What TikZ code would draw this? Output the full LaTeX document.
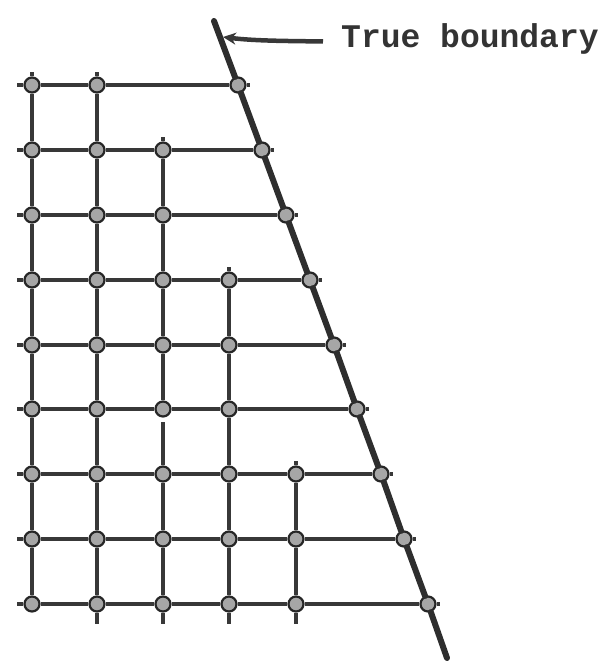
\documentclass[tikz,border=0pt]{standalone}
\usepackage{fontspec}
\newfontfamily\typewriter{Liberation Mono}
\usetikzlibrary{arrows.meta}
\tikzset{
  gridpt/.style={circle,draw=black!85,line width=2.2pt,fill=black!35,minimum size=15pt,inner sep=0pt},
  gridline/.style={line width=4.2pt,draw=black!78},
  bndline/.style={line width=6pt,draw=black!82,line cap=round},
}
\begin{document}
\begin{tikzpicture}[x=1pt,y=-1pt]
\useasboundingbox (0,0) rectangle (609,664);

\coordinate (btop) at (214,21);
\coordinate (bbot) at (447,658);
\foreach \r/\y/\bx in {1/85/238,2/150/262,3/215/286,4/280/310,5/345/334,6/409/357,7/474/381,8/539/404,9/604/428}
  \node[gridpt] (b\r) at (\bx,\y) {};
\foreach \c/\x/\first in {1/32/1,2/97/1,3/163/2,4/229/4,5/296/7} {
  \foreach \r/\y in {1/85,2/150,3/215,4/280,5/345,6/409,7/474,8/539,9/604} {
    \ifnum\r<\first\relax\else\node[gridpt] (n\r-\c) at (\x,\y) {};\fi
  }
}

\draw[bndline] (btop) -- (b1) -- (b2) -- (b3) -- (b4) -- (b5) -- (b6) -- (b7) -- (b8) -- (b9) -- (bbot);

\foreach \r/\m in {1/2,2/3,3/3,4/4,5/4,6/4,7/5,8/5,9/5} {
  \draw[gridline] (n\r-1) -- ++(-15,0);
  \foreach \c [evaluate=\c as \p using int(\c-1)] in {2,...,\m}
    \draw[gridline] (n\r-\p) -- (n\r-\c);
  \draw[gridline] (n\r-\m) -- (b\r) -- ++(12,0);
}
\foreach \c/\first in {1/1,2/1,3/2,4/4,5/7} {
  \draw[gridline] (n\first-\c) -- ++(0,-13);
  \foreach \r [evaluate=\r as \q using int(\r+1)] in {\first,...,8}
    \draw[gridline] (n\r-\c) -- (n\q-\c);
}
\foreach \c in {2,...,5}
  \draw[gridline] (n9-\c) -- ++(0,20);
\draw[line width=6pt,white] (n6-3) -- ++(0,13);

\node[anchor=base west,inner sep=0pt,text=black!80,font=\typewriter\bfseries\fontsize{33}{33}\selectfont] (lbl) at (341,47) {True boundary};
\coordinate (tip) at (223,37);
\draw[line width=4.5pt,draw=black!78,-{Stealth[length=13pt,width=12pt]}] ([xshift=-18pt,yshift=-3pt]lbl.west) .. controls (290,41) and (255,41) .. (tip);
\end{tikzpicture}
\end{document}
